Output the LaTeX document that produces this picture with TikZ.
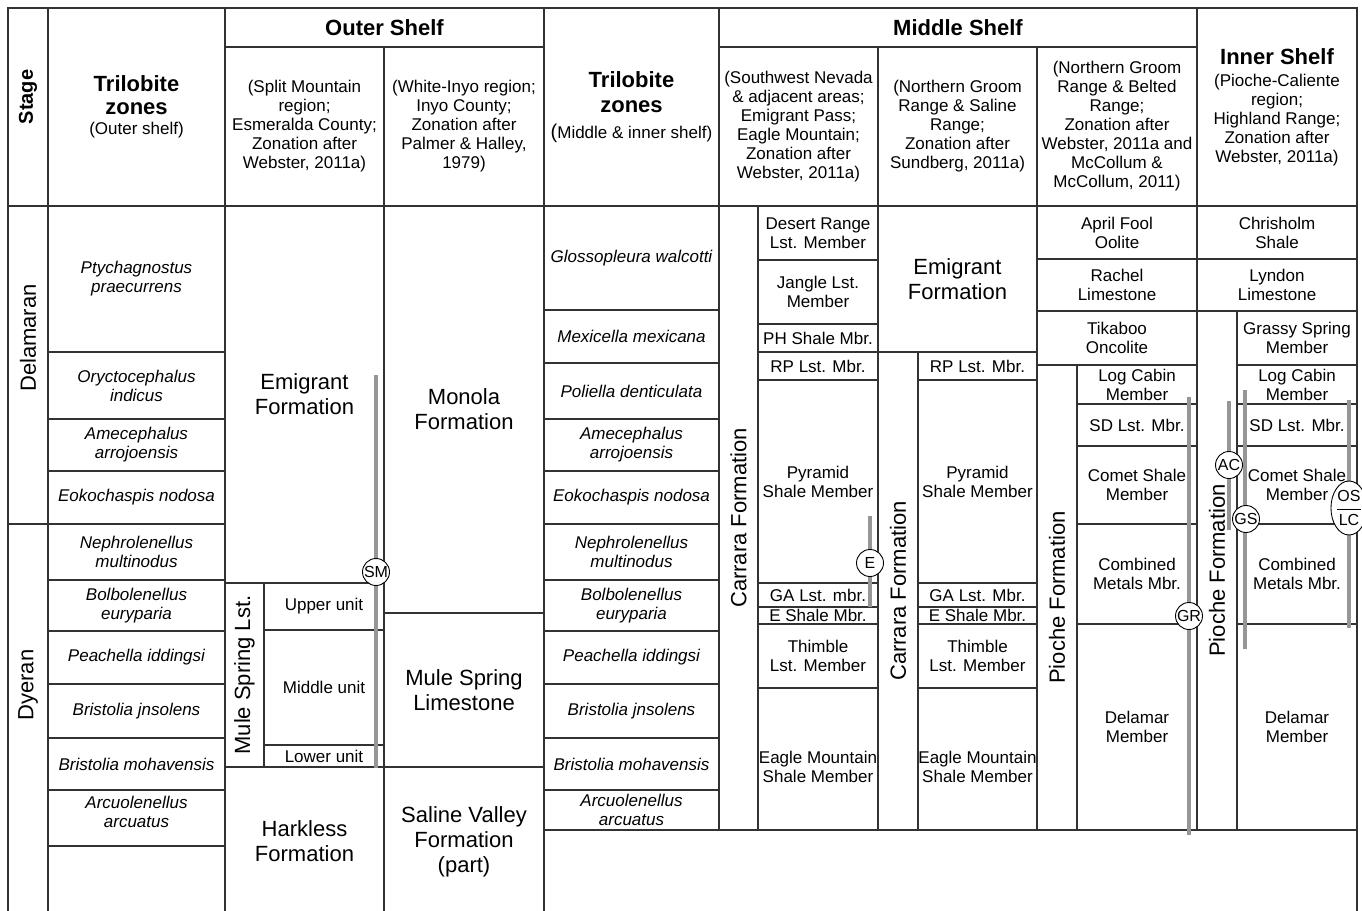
\documentclass[tikz,border=0pt]{standalone}
\usepackage{fontspec}
\setmainfont{Liberation Sans}
\usetikzlibrary{fit,shapes.geometric}
\definecolor{rulegray}{RGB}{50,50,50}
\definecolor{rangegray}{RGB}{150,150,150}
\newcommand{\headfont}{\bfseries\fontsize{22}{25}\selectfont}
\tikzset{
    cell/.style={
        draw=rulegray, line width=1.1pt, inner sep=0pt,
    },
    celltext/.style={
        align=center, inner sep=0pt,
        font=\fontsize{17}{19}\selectfont,
    },
    taxon/.style={
        celltext, font=\itshape\fontsize{17}{19}\selectfont,
    },
    unit/.style={
        celltext, font=\fontsize{22}{25}\selectfont,
    },
    title/.style={
        celltext, font=\headfont,
    },
    vlabel/.style={
        rotate=90, inner sep=0pt, font=\fontsize{22}{25}\selectfont,
    },
    sectionline/.style={
        draw=rangegray, line width=3.5pt,
    },
    marker/.style={
        circle, draw=black, fill=white, line width=0.9pt,
        inner sep=0pt, minimum size=27pt,
        font=\fontsize{16}{16}\selectfont,
    },
}

\begin{document}
\begin{tikzpicture}[x=1pt,y=-1pt]
\useasboundingbox[fill=white] (0,0) rectangle (1362,910);

% header row
\node[cell, fit={(8,8) (48,206)}] (stagehead) {};
\node[vlabel, font=\bfseries\fontsize{20}{20}\selectfont] (stagetext) at (28,97) {Stage};
\node[cell, fit={(48,8) (225,206)}] (triouthead) {};
\node[celltext] (triouttext) at (triouthead)
    {{\headfont Trilobite}\\[4pt]{\headfont zones}\\[1pt](Outer shelf)};
\node[cell, fit={(225,8) (544,47)}] (outerhead) {};
\node[title] (outertext) at (outerhead) {Outer Shelf};
\node[cell, fit={(225,47) (384,206)}] (splithead) {};
\node[celltext] (splittext) at (splithead)
    {(Split Mountain\\region;\\Esmeralda County;\\Zonation after\\Webster, 2011a)};
\node[cell, fit={(384,47) (544,206)}] (inyohead) {};
\node[celltext] (inyotext) at (inyohead)
    {(White-Inyo region;\\Inyo County;\\Zonation after\\Palmer \& Halley,\\1979)};
\node[cell, fit={(544,8) (719,206)}] (trimidhead) {};
\node[celltext] (trimidtext) at (trimidhead)
    {{\headfont Trilobite}\\[6pt]{\headfont zones}\\[7pt]{\fontsize{20}{20}\selectfont(}Middle \& inner shelf)};
\node[cell, fit={(719,8) (1197,47)}] (middlehead) {};
\node[title] (middletext) at (middlehead) {Middle Shelf};
\node[cell, fit={(719,47) (878,206)}] (swnevhead) {};
\node[celltext] (swnevtext) at (swnevhead)
    {(Southwest Nevada\\\& adjacent areas;\\Emigrant Pass;\\Eagle Mountain;\\Zonation after\\Webster, 2011a)};
\node[cell, fit={(878,47) (1037,206)}] (salinehead) {};
\node[celltext] (salinetext) at (salinehead)
    {(Northern Groom\\Range \& Saline\\Range;\\Zonation after\\Sundberg, 2011a)};
\node[cell, fit={(1037,47) (1197,206)}] (beltedhead) {};
\node[celltext] (beltedtext) at (beltedhead)
    {(Northern Groom\\Range \& Belted\\Range;\\Zonation after\\Webster, 2011a and\\McCollum \&\\McCollum, 2011)};
\node[cell, fit={(1197,8) (1357,206)}] (innerhead) {};
\node[celltext] (innertext) at (innerhead)
    {{\headfont Inner Shelf}\\[3pt](Pioche-Caliente\\region;\\Highland Range;\\Zonation after\\Webster, 2011a)};

% stages
\node[cell, fit={(8,206) (48,524)}] (delamaran) {};
\node[vlabel] (delamarantext) at (28,338) {Delamaran};
\node[cell, fit={(8,524) (48,916)}] (dyeran) {};
\node[vlabel] (dyerantext) at (28,685) {Dyeran};

% trilobite zones, outer shelf
\node[cell, fit={(48,206) (225,352)}] (ptych) {};
\node[taxon] (ptychtext) at (ptych) {Ptychagnostus\\praecurrens};
\node[cell, fit={(48,352) (225,419)}] (oryct) {};
\node[taxon] (orycttext) at (oryct) {Oryctocephalus\\indicus};
\node[cell, fit={(48,419) (225,471)}] (amecout) {};
\node[taxon] (amecouttext) at (amecout) {Amecephalus\\arrojoensis};
\node[cell, fit={(48,471) (225,524)}] (eokoout) {};
\node[taxon] (eokoouttext) at (eokoout) {Eokochaspis nodosa};
\node[cell, fit={(48,524) (225,580)}] (nephout) {};
\node[taxon] (nephouttext) at (nephout) {Nephrolenellus\\multinodus};
\node[cell, fit={(48,580) (225,631)}] (bolbout) {};
\node[taxon] (bolbouttext) at (bolbout) {Bolbolenellus\\euryparia};
\node[cell, fit={(48,631) (225,684)}] (peachout) {};
\node[taxon] (peachouttext) at (peachout) {Peachella iddingsi};
\node[cell, fit={(48,684) (225,738)}] (jnsout) {};
\node[taxon] (jnsouttext) at (jnsout) {Bristolia jnsolens};
\node[cell, fit={(48,738) (225,790)}] (mohavout) {};
\node[taxon] (mohavouttext) at (mohavout) {Bristolia mohavensis};
\node[cell, fit={(48,790) (225,846)}] (arcuout) {};
\node[taxon] (arcuouttext) at ([yshift=6pt]arcuout) {Arcuolenellus\\arcuatus};
\node[cell, fit={(48,846) (225,916)}] (blankout) {};

% outer shelf, Split Mountain
\node[cell, fit={(225,206) (384,583)}] (emigout) {};
\node[unit] (emigouttext) at (emigout) {Emigrant\\Formation};
\node[cell, fit={(225,583) (264,767)}] (mulestrip) {};
\node[vlabel] (mulestriptext) at (mulestrip) {Mule Spring Lst.};
\node[cell, fit={(264,583) (384,630)}] (upperunit) {};
\node[celltext] (uppertext) at (upperunit) {Upper unit};
\node[cell, fit={(264,630) (384,745)}] (middleunit) {};
\node[celltext] (middletextu) at (middleunit) {Middle unit};
\node[cell, fit={(264,745) (384,767)}] (lowerunit) {};
\node[celltext] (lowertext) at (lowerunit) {Lower unit};
\node[cell, fit={(225,767) (384,916)}] (harkless) {};
\node[unit] (harklesstext) at (harkless) {Harkless\\Formation};

% outer shelf, White-Inyo
\node[cell, fit={(384,206) (544,613)}] (monola) {};
\node[unit] (monolatext) at (monola) {Monola\\Formation};
\node[cell, fit={(384,613) (544,767)}] (mulelst) {};
\node[unit] (mulelsttext) at (mulelst) {Mule Spring\\Limestone};
\node[cell, fit={(384,767) (544,916)}] (salinevalley) {};
\node[unit] (salinevalleytext) at (salinevalley) {Saline Valley\\Formation\\(part)};

% trilobite zones, middle and inner shelf
\node[cell, fit={(544,206) (719,310)}] (glosso) {};
\node[taxon] (glossotext) at (glosso) {Glossopleura walcotti};
\node[cell, fit={(544,310) (719,363)}] (mexi) {};
\node[taxon] (mexitext) at (mexi) {Mexicella mexicana};
\node[cell, fit={(544,363) (719,419)}] (polie) {};
\node[taxon] (polietext) at (polie) {Poliella denticulata};
\node[cell, fit={(544,419) (719,471)}] (amecmid) {};
\node[taxon] (amecmidtext) at (amecmid) {Amecephalus\\arrojoensis};
\node[cell, fit={(544,471) (719,524)}] (eokomid) {};
\node[taxon] (eokomidtext) at (eokomid) {Eokochaspis nodosa};
\node[cell, fit={(544,524) (719,580)}] (nephmid) {};
\node[taxon] (nephmidtext) at (nephmid) {Nephrolenellus\\multinodus};
\node[cell, fit={(544,580) (719,631)}] (bolbmid) {};
\node[taxon] (bolbmidtext) at (bolbmid) {Bolbolenellus\\euryparia};
\node[cell, fit={(544,631) (719,684)}] (peachmid) {};
\node[taxon] (peachmidtext) at (peachmid) {Peachella iddingsi};
\node[cell, fit={(544,684) (719,738)}] (jnsmid) {};
\node[taxon] (jnsmidtext) at (jnsmid) {Bristolia jnsolens};
\node[cell, fit={(544,738) (719,790)}] (mohavmid) {};
\node[taxon] (mohavmidtext) at (mohavmid) {Bristolia mohavensis};
\node[cell, fit={(544,790) (719,830)}] (arcumid) {};
\node[taxon] (arcumidtext) at (arcumid) {Arcuolenellus\\arcuatus};
\node[cell, fit={(544,830) (1357,916)}] (blankmid) {};

% middle shelf, SW Nevada
\node[cell, fit={(719,206) (758,830)}] (carrstripa) {};
\node[vlabel] (carrstripatext) at (carrstripa) {Carrara Formation};
\node[cell, fit={(758,206) (878,260)}] (desert) {};
\node[celltext] (deserttext) at (desert) {Desert Range\\Lst. Member};
\node[cell, fit={(758,260) (878,324)}] (jangle) {};
\node[celltext] (jangletext) at (jangle) {Jangle Lst.\\Member};
\node[cell, fit={(758,324) (878,352)}] (phshale) {};
\node[celltext] (phshaletext) at (phshale) {PH Shale Mbr.};
\node[cell, fit={(758,352) (878,380)}] (rpa) {};
\node[celltext] (rpatext) at (rpa) {RP Lst. Mbr.};
\node[cell, fit={(758,380) (878,583)}] (pyra) {};
\node[celltext] (pyratext) at (pyra) {Pyramid\\Shale Member};
\node[cell, fit={(758,583) (878,607)}] (gaa) {};
\node[celltext] (gaatext) at (gaa) {GA Lst. mbr.};
\node[cell, fit={(758,607) (878,624)}] (eshalea) {};
\node[celltext] (eshaleatext) at (eshalea) {E Shale Mbr.};
\node[cell, fit={(758,624) (878,688)}] (thima) {};
\node[celltext] (thimatext) at (thima) {Thimble\\Lst. Member};
\node[cell, fit={(758,688) (878,830)}] (eaglea) {};
\node[celltext] (eagleatext) at ([yshift=-8pt]eaglea) {Eagle Mountain\\Shale Member};

% middle shelf, Groom & Saline
\node[cell, fit={(878,206) (1037,352)}] (emigmid) {};
\node[unit] (emigmidtext) at (emigmid) {Emigrant\\Formation};
\node[cell, fit={(878,352) (918,830)}] (carrstripb) {};
\node[vlabel] (carrstripbtext) at (carrstripb) {Carrara Formation};
\node[cell, fit={(918,352) (1037,380)}] (rpb) {};
\node[celltext] (rpbtext) at (rpb) {RP Lst. Mbr.};
\node[cell, fit={(918,380) (1037,583)}] (pyrb) {};
\node[celltext] (pyrbtext) at (pyrb) {Pyramid\\Shale Member};
\node[cell, fit={(918,583) (1037,607)}] (gab) {};
\node[celltext] (gabtext) at (gab) {GA Lst. Mbr.};
\node[cell, fit={(918,607) (1037,624)}] (eshaleb) {};
\node[celltext] (eshalebtext) at (eshaleb) {E Shale Mbr.};
\node[cell, fit={(918,624) (1037,688)}] (thimb) {};
\node[celltext] (thimbtext) at (thimb) {Thimble\\Lst. Member};
\node[cell, fit={(918,688) (1037,830)}] (eagleb) {};
\node[celltext] (eaglebtext) at ([yshift=-8pt]eagleb) {Eagle Mountain\\Shale Member};

% middle shelf, Groom & Belted
\node[cell, fit={(1037,206) (1197,259)}] (aprilfool) {};
\node[celltext] (aprilfooltext) at (aprilfool) {April Fool\\Oolite};
\node[cell, fit={(1037,259) (1197,311)}] (rachel) {};
\node[celltext] (racheltext) at (rachel) {Rachel\\Limestone};
\node[cell, fit={(1037,311) (1197,365)}] (tikaboo) {};
\node[celltext] (tikabootext) at (tikaboo) {Tikaboo\\Oncolite};
\node[cell, fit={(1037,365) (1077,830)}] (piocstripa) {};
\node[vlabel] (piocstripatext) at (piocstripa) {Pioche Formation};
\node[cell, fit={(1077,365) (1197,404)}] (logcabina) {};
\node[celltext] (logcabinatext) at (logcabina) {Log Cabin\\Member};
\node[cell, fit={(1077,404) (1197,446)}] (sda) {};
\node[celltext] (sdatext) at (sda) {SD Lst. Mbr.};
\node[cell, fit={(1077,446) (1197,524)}] (cometa) {};
\node[celltext] (cometatext) at (cometa) {Comet Shale\\Member};
\node[cell, fit={(1077,524) (1197,624)}] (cmetalsa) {};
\node[celltext] (cmetalsatext) at (cmetalsa) {Combined\\Metals Mbr.};
\node[cell, fit={(1077,624) (1197,830)}] (delamara) {};
\node[celltext] (delamaratext) at (delamara) {Delamar\\Member};

% inner shelf
\node[cell, fit={(1197,206) (1357,259)}] (chrisholm) {};
\node[celltext] (chrisholmtext) at (chrisholm) {Chrisholm\\Shale};
\node[cell, fit={(1197,259) (1357,311)}] (lyndon) {};
\node[celltext] (lyndontext) at (lyndon) {Lyndon\\Limestone};
\node[cell, fit={(1197,311) (1237,830)}] (piocstripb) {};
\node[vlabel] (piocstripbtext) at (piocstripb) {Pioche Formation};
\node[cell, fit={(1237,311) (1357,365)}] (grassy) {};
\node[celltext] (grassytext) at (grassy) {Grassy Spring\\Member};
\node[cell, fit={(1237,365) (1357,404)}] (logcabinb) {};
\node[celltext] (logcabinbtext) at (logcabinb) {Log Cabin\\Member};
\node[cell, fit={(1237,404) (1357,446)}] (sdb) {};
\node[celltext] (sdbtext) at (sdb) {SD Lst. Mbr.};
\node[cell, fit={(1237,446) (1357,524)}] (cometb) {};
\node[celltext] (cometbtext) at (cometb) {Comet Shale\\Member};
\node[cell, fit={(1237,524) (1357,624)}] (cmetalsb) {};
\node[celltext] (cmetalsbtext) at (cmetalsb) {Combined\\Metals Mbr.};
\node[cell, fit={(1237,624) (1357,830)}] (delamarb) {};
\node[celltext] (delamarbtext) at (delamarb) {Delamar\\Member};

% outline
\draw[draw=rulegray, line width=1.8pt] (8,916) |- (1357,8) -- (1357,916);

% sections
\coordinate (smtop) at (376,375);
\coordinate (smbot) at (376,768);
\coordinate (etop) at (870,516);
\coordinate (ebot) at (870,607);
\coordinate (grtop) at (1189,397);
\coordinate (grbot) at (1189,835);
\coordinate (actop) at (1229,401);
\coordinate (acbot) at (1229,530);
\coordinate (gstop) at (1245,390);
\coordinate (gsbot) at (1245,649);
\coordinate (oslctop) at (1349,400);
\coordinate (oslcbot) at (1349,628);
\draw[sectionline] (smtop) -- (smbot);
\draw[sectionline] (etop) -- (ebot);
\draw[sectionline] (grtop) -- (grbot);
\draw[sectionline] (actop) -- (acbot);
\draw[sectionline] (gstop) -- (gsbot);
\draw[sectionline] (oslctop) -- (oslcbot);
\node[marker] (sm) at (376,572) {SM};
\node[marker] (e) at (870,563) {E};
\node[marker] (gr) at (1189,616) {GR};
\node[marker] (ac) at (1229,465) {AC};
\node[marker] (gs) at (1246,519) {GS};
\node[marker, ellipse, minimum width=25pt, minimum height=54pt] (oslc) at (1349,508)
    {$\displaystyle\frac{\mbox{OS}}{\mbox{LC}}$};
\end{tikzpicture}
\end{document}
